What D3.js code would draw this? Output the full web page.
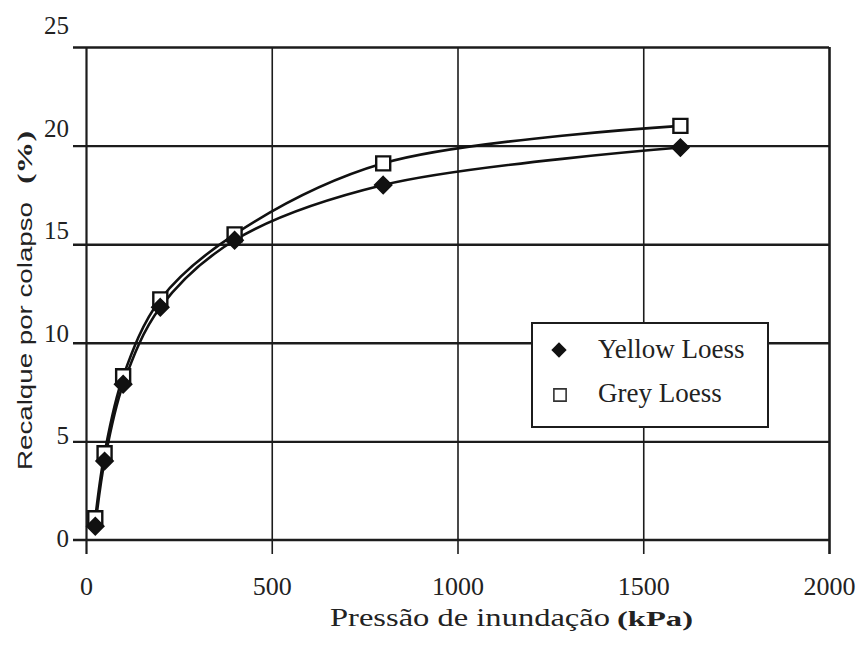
<!DOCTYPE html>
<html>
<head>
<meta charset="utf-8">
<script src="https://cdn.jsdelivr.net/npm/d3@7"></script>
<style>
  html, body { margin: 0; padding: 0; background: #fff; }
  svg { display: block; }
  text { fill: #222; }
</style>
</head>
<body>
<svg id="chart" width="867" height="646"></svg>
<script>
// Collapse settlement vs. inundation pressure for two loess types
const pressures = [25, 50, 100, 200, 400, 800, 1600];           // kPa
const yellowLoess = [0.7, 4.0, 7.9, 11.8, 15.2, 18.0, 19.9];     // %
const greyLoess = [1.1, 4.4, 8.3, 12.2, 15.5, 19.1, 21.0];       // %
const xTicks = [0, 500, 1000, 1500, 2000];
const yTicks = [0, 5, 10, 15, 20, 25];
const seriesNames = ["Yellow Loess", "Grey Loess"];

const svg = d3.select("#chart");
const plotLeft = 86, plotRight = 829, plotTop = 47, plotBottom = 540;
const ink = "#1c1c1c";

const x = d3.scaleLinear().domain([0, 2000]).range([plotLeft, plotRight]);
const y = d3.scaleLinear().domain([0, 25]).range([plotBottom, plotTop]);
// tick labels sit on a slightly taller spread than the grid
const yLabel = d3.scaleLinear().domain([0, 25]).range([538, 25]);

// horizontal grid lines with short outward ticks
svg.append("g")
  .attr("transform", `translate(${plotLeft},0)`)
  .call(d3.axisLeft(y).tickValues(yTicks.filter(v => v > 0)).tickSize(0).tickFormat(""))
  .call(g => g.select(".domain").remove())
  .call(g => g.selectAll(".tick line").attr("x1", -13).attr("x2", plotRight - plotLeft)
    .attr("stroke", ink).attr("stroke-width", 2.4));

// vertical grid lines with short outward ticks
svg.append("g")
  .attr("transform", `translate(0,${plotBottom})`)
  .call(d3.axisBottom(x).tickValues(xTicks).tickSize(0).tickFormat(""))
  .call(g => g.select(".domain").remove())
  .call(g => g.selectAll(".tick line")
    .attr("y1", 14).attr("y2", -(plotBottom - plotTop))
    .attr("stroke", ink)
    .attr("stroke-width", d => (d === 0 ? 2.2 : d === 2000 ? 2.6 : 1.6)));

// x axis baseline
svg.append("line")
  .attr("x1", plotLeft - 13).attr("x2", plotRight)
  .attr("y1", plotBottom).attr("y2", plotBottom)
  .attr("stroke", ink).attr("stroke-width", 2.6);

// x tick labels
svg.append("g")
  .attr("transform", `translate(0,${plotBottom})`)
  .call(d3.axisBottom(x).tickValues(xTicks).tickSize(0).tickPadding(0).tickFormat(d3.format("d")))
  .call(g => g.select(".domain").remove())
  .call(g => g.selectAll(".tick text")
    .attr("y", 55).attr("dy", null)
    .attr("font-family", "'Liberation Serif', 'Times New Roman', serif")
    .attr("font-size", 26).attr("fill", "#222"));

// y tick labels
svg.append("g")
  .attr("transform", `translate(69,0)`)
  .call(d3.axisLeft(yLabel).tickValues(yTicks).tickSize(0).tickPadding(0).tickFormat(d3.format("d")))
  .call(g => g.select(".domain").remove())
  .call(g => g.selectAll(".tick text")
    .attr("dy", "0.34em")
    .attr("font-family", "'Liberation Serif', 'Times New Roman', serif")
    .attr("font-size", 25).attr("fill", "#222"));

// series lines
const line = d3.line()
  .x(d => x(d[0]))
  .y(d => y(d[1]))
  .curve(d3.curveCatmullRom.alpha(0.5));

const greyPts = pressures.map((p, i) => [p, greyLoess[i]]);
const yellowPts = pressures.map((p, i) => [p, yellowLoess[i]]);

svg.append("path").datum(greyPts)
  .attr("d", line).attr("fill", "none")
  .attr("stroke", "#111").attr("stroke-width", 2.6);
svg.append("path").datum(yellowPts)
  .attr("d", line).attr("fill", "none")
  .attr("stroke", "#111").attr("stroke-width", 2.6);

const squareSym = d3.symbol().type(d3.symbolSquare).size(196);
const diamondSym = d3.symbol().type(d3.symbolDiamond2).size(190);

// grey loess markers (open squares)
svg.append("g").selectAll("path").data(greyPts).join("path")
  .attr("transform", d => `translate(${x(d[0])},${y(d[1])})`)
  .attr("d", squareSym)
  .attr("fill", "#fff").attr("stroke", "#111").attr("stroke-width", 2.4);

// yellow loess markers (filled diamonds)
svg.append("g").selectAll("path").data(yellowPts).join("path")
  .attr("transform", d => `translate(${x(d[0])},${y(d[1])})`)
  .attr("d", diamondSym)
  .attr("fill", "#111").attr("stroke", "#111").attr("stroke-width", 1.5);

// legend
const legend = svg.append("g");
legend.append("rect")
  .attr("x", 532).attr("y", 323).attr("width", 236).attr("height", 104)
  .attr("fill", "#fff").attr("stroke", ink).attr("stroke-width", 2);
legend.append("path")
  .attr("transform", "translate(559,350)")
  .attr("d", d3.symbol().type(d3.symbolDiamond2).size(150))
  .attr("fill", "#111");
legend.append("path")
  .attr("transform", "translate(560,395)")
  .attr("d", d3.symbol().type(d3.symbolSquare).size(150))
  .attr("fill", "#fff").attr("stroke", "#333").attr("stroke-width", 1.6);
legend.selectAll("text.entry").data(seriesNames).join("text")
  .attr("class", "entry")
  .attr("x", 598).attr("y", (d, i) => 358 + i * 44)
  .attr("font-family", "'Liberation Serif', 'Times New Roman', serif")
  .attr("font-size", 27)
  .text(d => d);

// axis titles
svg.append("text")
  .attr("x", 330).attr("y", 626)
  .attr("font-family", "'Liberation Serif', 'Times New Roman', serif")
  .attr("font-size", 26)
  .attr("textLength", 280).attr("lengthAdjust", "spacingAndGlyphs")
  .text("Pressão de inundação");
svg.append("text")
  .attr("x", 617).attr("y", 626)
  .attr("font-family", "'Liberation Serif', 'Times New Roman', serif")
  .attr("font-size", 22).attr("font-weight", "bold")
  .attr("textLength", 76).attr("lengthAdjust", "spacingAndGlyphs")
  .text("(kPa)");

svg.append("text")
  .attr("transform", "translate(32,470) rotate(-90)")
  .attr("font-family", "'Liberation Sans', Arial, sans-serif")
  .attr("font-size", 21)
  .attr("textLength", 268).attr("lengthAdjust", "spacingAndGlyphs")
  .text("Recalque por colapso");
svg.append("text")
  .attr("transform", "translate(32,184) rotate(-90)")
  .attr("font-family", "'Liberation Serif', 'Times New Roman', serif")
  .attr("font-size", 20).attr("font-weight", "bold")
  .attr("textLength", 53).attr("lengthAdjust", "spacingAndGlyphs")
  .text("(%)");
</script>
</body>
</html>
